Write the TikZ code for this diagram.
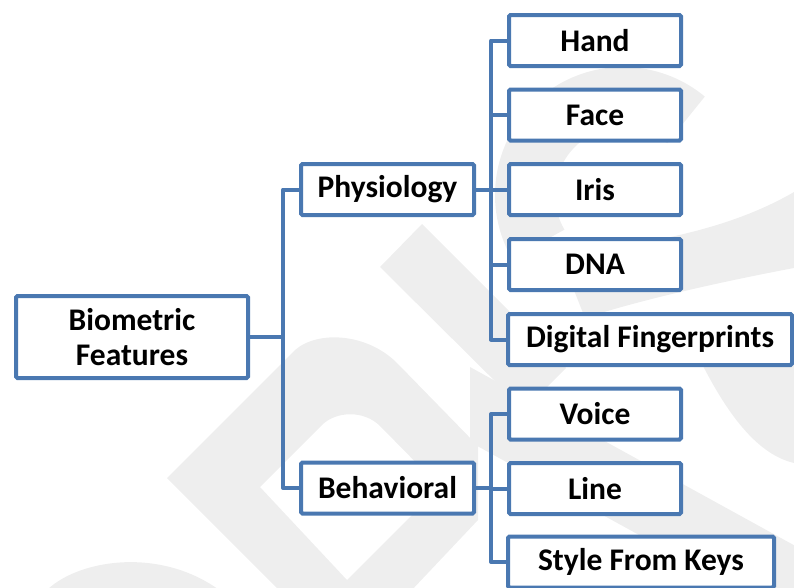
\documentclass[tikz,border=0pt]{standalone}
\usepackage{fontspec}
\setmainfont{Carlito}
\definecolor{edge}{HTML}{4A78B1}
\definecolor{emblemgray}{HTML}{EEEEEE}
\begin{document}
\begin{tikzpicture}[x=1pt,y=-1pt,
  box/.style={draw=edge, line width=4pt, fill=white, rounded corners=1.5pt,
    minimum width=172pt, minimum height=51pt, inner sep=0pt,
    font=\bfseries\fontsize{31.5}{35}\selectfont, align=center},
  link/.style={draw=edge, line width=4pt, line join=round},
  emblem/.style={fill=emblemgray, draw=none}]
\useasboundingbox (0,0) rectangle (794,587);

% faint background emblem
\begin{scope}
  \clip (0,0) rectangle (794,587);
  % left arch band
  \path[emblem, even odd rule]
    (167,478) -- (295,350) .. controls (318,330) and (368,333) .. (398,364)
    -- (478,446) -- (478,520) -- (410,592) -- (281,592) -- cycle
    (260,487) -- (322,425) .. controls (336,411) and (364,410) .. (380,426)
    -- (440,487) -- (347,580) -- cycle;
  % small dome at the bottom left
  \path[emblem] (45,592) .. controls (75,560) and (160,545) .. (222,592) -- cycle;
  % diagonal band from the apex
  \path[emblem] (380,267) -- (422,224) -- (566,368) -- (524,410) -- cycle;
  % lower diagonal band
  \path[emblem] (470,367) -- (810,554) -- (810,629) -- (470,442) -- cycle;
  % upper ring
  \draw[draw=emblemgray, line width=60pt] (623,195) ++(150:98) arc[start angle=150, end angle=310, radius=98];
  % middle swoosh
  \path[emblem] (560,255) .. controls (630,245) and (720,235) .. (794,192)
    -- (794,268) .. controls (720,282) and (640,300) .. (585,318) -- cycle;
  % lower right crescent
  \path[emblem] (700,360) .. controls (730,420) and (760,455) .. (794,463)
    -- (794,355) -- cycle;
\end{scope}

% nodes
\node[box, minimum width=232pt, minimum height=82pt] (bf) at (132,337) {Biometric\\Features};
\node[box, minimum width=173pt] (phys) at (387.5,189.5) {Physiology};
\node[box, minimum width=173pt] (beh) at (387.5,488) {Behavioral};

\node[box] (hand) at (595,40.5) {Hand};
\node[box] (face) at (595,115) {Face};
\node[box] (iris) at (595,189.5) {Iris};
\node[box] (dna) at (595,264.5) {DNA};
\node[box, minimum width=284pt] (dfp) at (650,339.5) {Digital Fingerprints};
\node[box] (voice) at (595,414) {Voice};
\node[box] (line) at (595,488.5) {Line};
\node[box, minimum width=266pt] (sfk) at (641,562) {Style From Keys};

% junctions
\coordinate (j0) at (283,337);
\coordinate (j1) at (491,189.5);
\coordinate (j2) at (491,488);

% connectors
\draw[link] (bf.east) -- (j0);
\draw[link] (j0) |- (phys.west);
\draw[link] (j0) |- (beh.west);

\draw[link] (phys.east) -- (j1);
\foreach \n in {hand,face,iris,dna,dfp}
  \draw[link] (j1) |- (\n.west);

\draw[link] (beh.east) -- (j2);
\foreach \n in {voice,line,sfk}
  \draw[link] (j2) |- (\n.west);
\end{tikzpicture}
\end{document}
